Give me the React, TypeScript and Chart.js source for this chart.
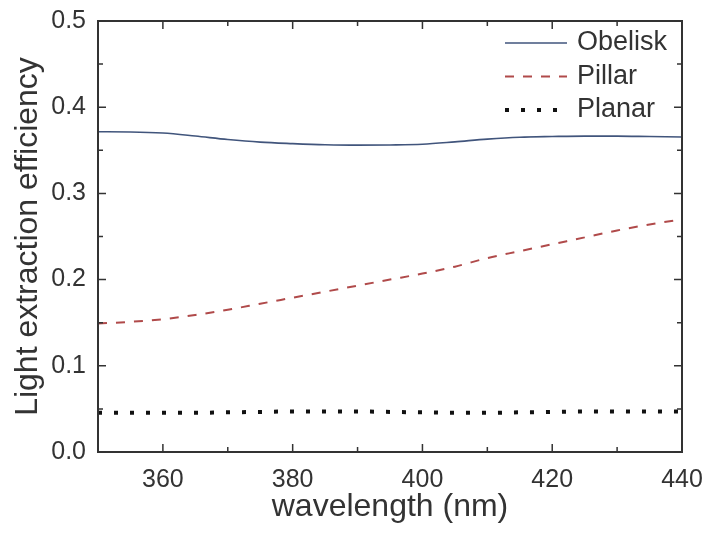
import React, { useEffect, useRef } from "react";
import { Chart, registerables } from "chart.js";

Chart.register(...registerables);

const wavelengths = [350, 355, 360, 365, 370, 375, 380, 385, 390, 395, 400, 405, 410, 415, 420, 425, 430, 435, 440];
const obelisk = [0.3715, 0.3713, 0.37, 0.3665, 0.3625, 0.3595, 0.3578, 0.3565, 0.356, 0.3562, 0.357, 0.3598, 0.363, 0.3652, 0.366, 0.3665, 0.3665, 0.366, 0.3655];
const pillar = [0.149, 0.151, 0.154, 0.159, 0.165, 0.172, 0.179, 0.186, 0.193, 0.2, 0.207, 0.215, 0.225, 0.233, 0.241, 0.249, 0.257, 0.264, 0.27];
const planar = [0.0455, 0.0455, 0.0455, 0.0455, 0.046, 0.0465, 0.047, 0.047, 0.047, 0.0465, 0.046, 0.0455, 0.0455, 0.046, 0.0465, 0.047, 0.047, 0.047, 0.047];
const seriesLabels = ["Obelisk", "Pillar", "Planar"];

const xMajorTicks = [360, 380, 400, 420, 440];
const xMinorTicks = [370, 390, 410, 430];
const yMajorTicks = [0, 0.1, 0.2, 0.3, 0.4, 0.5];
const yMinorTicks = [0.05, 0.15, 0.25, 0.35, 0.45];

const FONT = "'Liberation Sans', Arial, sans-serif";
const INK = "#333333";

const framePlugin = {
  id: "frame",
  afterDatasetsDraw(chart: any) {
    const { ctx, chartArea: a, scales } = chart;
    const xs = scales.x;
    const ys = scales.y;
    ctx.save();
    ctx.strokeStyle = INK;
    ctx.lineWidth = 2;
    ctx.strokeRect(a.left, a.top, a.right - a.left, a.bottom - a.top);
    ctx.lineWidth = 1.5;
    const major = 8;
    const minor = 5;
    ctx.beginPath();
    const xt = (v: number, len: number) => {
      const px = xs.getPixelForValue(v);
      ctx.moveTo(px, a.bottom);
      ctx.lineTo(px, a.bottom - len);
      ctx.moveTo(px, a.top);
      ctx.lineTo(px, a.top + len);
    };
    const yt = (v: number, len: number) => {
      const py = ys.getPixelForValue(v);
      ctx.moveTo(a.left, py);
      ctx.lineTo(a.left + len, py);
      ctx.moveTo(a.right, py);
      ctx.lineTo(a.right - len, py);
    };
    xMajorTicks.forEach((v) => xt(v, major));
    xMinorTicks.forEach((v) => xt(v, minor));
    yMajorTicks.forEach((v) => yt(v, major));
    yMinorTicks.forEach((v) => yt(v, minor));
    ctx.stroke();

    // legend
    const ds = chart.data.datasets;
    const textX = a.right - 105;
    const lineX0 = a.right - 177;
    const lineX1 = a.right - 115;
    ctx.font = `27px ${FONT}`;
    ctx.textBaseline = "middle";
    ctx.textAlign = "left";
    ds.forEach((d: any, i: number) => {
      const y = a.top + 22 + i * 33.5;
      ctx.save();
      ctx.strokeStyle = d.borderColor;
      ctx.lineWidth = d.borderWidth;
      ctx.setLineDash(d.borderDash || []);
      ctx.beginPath();
      ctx.moveTo(lineX0, y);
      ctx.lineTo(lineX1, y);
      ctx.stroke();
      ctx.restore();
      ctx.fillStyle = INK;
      ctx.fillText(d.label, textX, y);
    });
    ctx.restore();
  },
};

export default function App() {
  const ref = useRef<HTMLCanvasElement | null>(null);
  useEffect(() => {
    if (!ref.current) return;
    const chart = new Chart(ref.current, {
      type: "line",
      data: {
        datasets: [
          {
            label: seriesLabels[0],
            data: wavelengths.map((x, i) => ({ x, y: obelisk[i] })),
            borderColor: "#41557c",
            borderWidth: 1.6,
            pointRadius: 0,
            cubicInterpolationMode: "monotone",
          },
          {
            label: seriesLabels[1],
            data: wavelengths.map((x, i) => ({ x, y: pillar[i] })),
            borderColor: "#b04a4a",
            borderWidth: 2,
            borderDash: [9, 9],
            pointRadius: 0,
            cubicInterpolationMode: "monotone",
          },
          {
            label: seriesLabels[2],
            data: wavelengths.map((x, i) => ({ x, y: planar[i] })),
            borderColor: "#111111",
            borderWidth: 4,
            borderDash: [4, 12],
            pointRadius: 0,
            cubicInterpolationMode: "monotone",
          },
        ],
      },
      options: {
        animation: false,
        responsive: true,
        maintainAspectRatio: false,
        layout: { padding: { top: 21, right: 28, left: 0, bottom: 0 } },
        plugins: { legend: { display: false }, tooltip: { enabled: false } },
        scales: {
          x: {
            type: "linear",
            min: 350,
            max: 440,
            grid: { display: false },
            border: { display: false },
            afterBuildTicks: (s: any) => {
              s.ticks = xMajorTicks.map((v) => ({ value: v }));
            },
            afterFit: (s: any) => {
              s.height = 82;
            },
            ticks: {
              font: { family: FONT, size: 25 },
              color: INK,
              padding: 5,
              maxRotation: 0,
              autoSkip: false,
            },
            title: {
              display: true,
              text: "wavelength (nm)",
              font: { family: FONT, size: 32 },
              color: INK,
              padding: { top: 0, bottom: 8 },
            },
          },
          y: {
            type: "linear",
            min: 0,
            max: 0.5,
            grid: { display: false },
            border: { display: false },
            afterBuildTicks: (s: any) => {
              s.ticks = yMajorTicks.map((v) => ({ value: v }));
            },
            afterFit: (s: any) => {
              s.width = 98;
            },
            ticks: {
              font: { family: FONT, size: 25 },
              color: INK,
              padding: 4,
              callback: (v: any) => Number(v).toFixed(1),
            },
            title: {
              display: true,
              text: "Light extraction efficiency",
              font: { family: FONT, size: 32 },
              color: INK,
              padding: { top: 9, bottom: 0 },
            },
          },
        },
      },
      plugins: [framePlugin],
    });
    return () => chart.destroy();
  }, []);
  return (
    <div style={{ position: "absolute", left: 0, top: 0, width: 710, height: 534, background: "#fff" }}>
      <canvas ref={ref} />
    </div>
  );
}
